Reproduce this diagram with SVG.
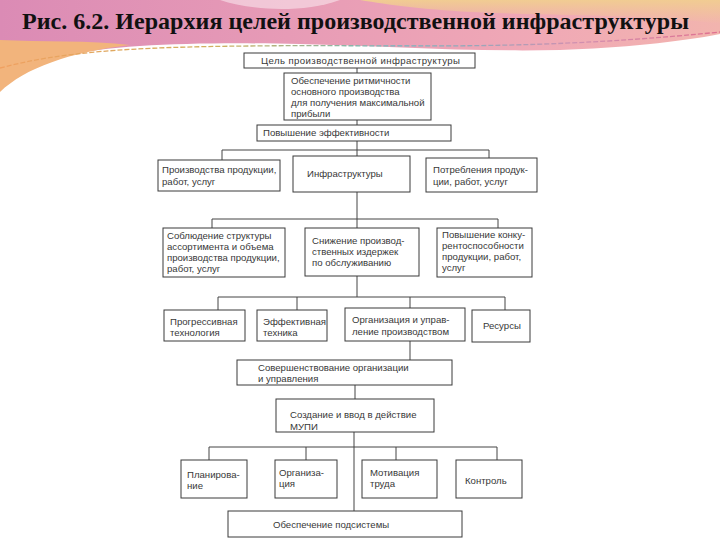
<svg xmlns="http://www.w3.org/2000/svg" width="720" height="540" viewBox="0 0 720 540">
<defs>
<linearGradient id="hdr" x1="0" y1="0" x2="1" y2="0">
<stop offset="0" stop-color="#db8bb5"/>
<stop offset="0.4" stop-color="#e79bb6"/>
<stop offset="0.75" stop-color="#f0a9b6"/>
<stop offset="1" stop-color="#f2b4ae"/>
</linearGradient>
<linearGradient id="peach" x1="0" y1="0" x2="0" y2="1">
<stop offset="0" stop-color="#f1cc92"/>
<stop offset="1" stop-color="#f1cc92" stop-opacity="0"/>
</linearGradient>
<linearGradient id="dash" x1="0" y1="0" x2="1" y2="0">
<stop offset="0" stop-color="#f0a060"/>
<stop offset="0.3" stop-color="#d0b060"/>
<stop offset="0.55" stop-color="#70b8c0"/>
<stop offset="0.8" stop-color="#d090b0"/>
<stop offset="1" stop-color="#e07090"/>
</linearGradient>
<style>
.box{fill:#fff;stroke:#3a3a3a;stroke-width:1}
.t{font-family:"Liberation Sans","DejaVu Sans",sans-serif;font-size:9.6px;fill:#383838}
.c{fill:none;stroke:#444;stroke-width:1}
</style>
</defs>
<rect width="720" height="540" fill="#fff"/>
<g id="header">
<path d="M0,0 H720 V34 C680,42 620,48 560,50 C470,52 380,46 300,44 C200,42 120,44 60,56 C30,64 10,76 0,90 Z" fill="url(#hdr)"/>
<path d="M360,0 H720 V24 C650,14 560,16 470,12 C420,9 390,5 360,0 Z" fill="url(#peach)"/>
<path d="M0,40 C40,42 90,40 130,45 C70,52 25,68 0,92 Z" fill="#f2b47c"/>
<path d="M220,0 C250,10 300,14 340,0 Z" fill="#fff" opacity="0.45"/>
<path d="M0,68 C60,52 130,47 250,46 C400,44 520,52 720,32" fill="none" stroke="url(#dash)" stroke-width="1.3" stroke-dasharray="5 2"/>
<text x="22" y="29" font-family="Liberation Serif,serif" font-weight="bold" font-size="24" fill="#111" textLength="667" lengthAdjust="spacingAndGlyphs">Рис. 6.2. Иерархия целей производственной инфраструктуры</text>
</g>
<g id="connectors">
<path class="c" d="M357,68V73 M357,120V125 M357,141V150 M222,150H489 M222,150V160 M357,150V156 M489,150V158 M357,192V219 M212,219H498 M212,219V228 M357,219V228 M498,219V228 M357,276V297 M218,297H505 M218,297V310 M297,297V310 M410,297V308 M505,297V310 M410,341V360 M355,385V399 M354,432V511 M209,447H497 M209,447V460 M306,447V460 M396,447V460 M497,447V460"/>
</g>
<g id="n1"><rect class="box" x="244" y="53" width="231" height="15"/><text class="t" x="261" y="64" textLength="199">Цель производственной инфраструктуры</text></g>
<g id="n2"><rect class="box" x="284" y="73" width="147" height="47"/><text class="t"><tspan x="291" y="84">Обеспечение ритмичности</tspan><tspan x="291" y="95">основного производства</tspan><tspan x="291" y="106">для получения максимальной</tspan><tspan x="291" y="117">прибыли</tspan></text></g>
<g id="n3"><rect class="box" x="257" y="125" width="194" height="16"/><text class="t" x="263" y="136">Повышение эффективности</text></g>
<g id="n4"><rect class="box" x="158" y="160" width="122" height="31"/><text class="t"><tspan x="162" y="173">Производства продукции,</tspan><tspan x="162" y="185">работ, услуг</tspan></text></g>
<g id="n5"><rect class="box" x="293" y="156" width="117" height="36"/><text class="t" x="307" y="177">Инфраструктуры</text></g>
<g id="n6"><rect class="box" x="426" y="158" width="111" height="34"/><text class="t"><tspan x="433" y="173">Потребления продук-</tspan><tspan x="433" y="185">ции, работ, услуг</tspan></text></g>
<g id="n7"><rect class="box" x="163" y="228" width="122" height="49"/><text class="t"><tspan x="167" y="239">Соблюдение структуры</tspan><tspan x="167" y="250">ассортимента и объема</tspan><tspan x="167" y="261">производства продукции,</tspan><tspan x="167" y="272">работ, услуг</tspan></text></g>
<g id="n8"><rect class="box" x="305" y="228" width="114" height="48"/><text class="t"><tspan x="312" y="244">Снижение производ-</tspan><tspan x="312" y="255">ственных издержек</tspan><tspan x="312" y="266">по обслуживанию</tspan></text></g>
<g id="n9"><rect class="box" x="437" y="228" width="95" height="49"/><text class="t"><tspan x="442" y="238">Повышение конку-</tspan><tspan x="442" y="249">рентоспособности</tspan><tspan x="442" y="260">продукции, работ,</tspan><tspan x="442" y="271">услуг</tspan></text></g>
<g id="n10"><rect class="box" x="164" y="310" width="81" height="31"/><text class="t"><tspan x="170" y="325">Прогрессивная</tspan><tspan x="170" y="336">технология</tspan></text></g>
<g id="n11"><rect class="box" x="257" y="310" width="70" height="31"/><text class="t"><tspan x="263" y="325">Эффективная</tspan><tspan x="263" y="336">техника</tspan></text></g>
<g id="n12"><rect class="box" x="345" y="308" width="120" height="33"/><text class="t"><tspan x="352" y="323">Организация и управ-</tspan><tspan x="352" y="335">ление производством</tspan></text></g>
<g id="n13"><rect class="box" x="472" y="310" width="58" height="32"/><text class="t" x="483" y="329">Ресурсы</text></g>
<g id="n14"><rect class="box" x="237" y="360" width="215" height="25"/><text class="t"><tspan x="258" y="371">Совершенствование организации</tspan><tspan x="258" y="382">и управления</tspan></text></g>
<g id="n15"><rect class="box" x="276" y="399" width="158" height="33"/><text class="t"><tspan x="290" y="418">Создание и ввод в действие</tspan><tspan x="290" y="430">МУПИ</tspan></text></g>
<g id="n16"><rect class="box" x="181" y="460" width="66" height="38"/><text class="t"><tspan x="187" y="478">Планирова-</tspan><tspan x="187" y="489">ние</tspan></text></g>
<g id="n17"><rect class="box" x="275" y="460" width="62" height="38"/><text class="t"><tspan x="279" y="476">Организа-</tspan><tspan x="279" y="487">ция</tspan></text></g>
<g id="n18"><rect class="box" x="362" y="460" width="75" height="38"/><text class="t"><tspan x="370" y="476">Мотивация</tspan><tspan x="370" y="487">труда</tspan></text></g>
<g id="n19"><rect class="box" x="456" y="460" width="66" height="38"/><text class="t" x="465" y="484">Контроль</text></g>
<g id="n20"><rect class="box" x="228" y="511" width="234" height="26"/><text class="t" x="273" y="528">Обеспечение подсистемы</text></g>
</svg>
